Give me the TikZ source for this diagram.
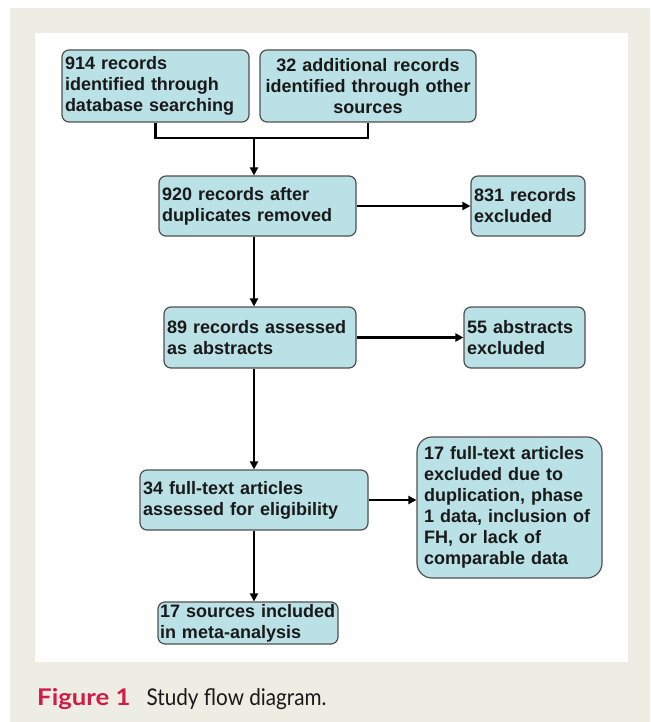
\documentclass[tikz,border=0pt]{standalone}
\usepackage{fontspec}
\setmainfont{Liberation Sans}
\newfontfamily\capfont{Lato}
\usetikzlibrary{arrows.meta,calc}
\hyphenpenalty=10000
\exhyphenpenalty=10000
\hbadness=10000
\hfuzz=30pt
\definecolor{boxfill}{RGB}{186,225,229}
\definecolor{boxline}{RGB}{80,80,80}
\definecolor{beige}{RGB}{238,237,227}
\definecolor{figred}{RGB}{208,26,72}
\definecolor{txt}{RGB}{25,25,25}
\tikzset{
  flowbox/.style={draw=boxline, line width=1.2pt, fill=boxfill, rounded corners=7pt,
    inner xsep=3pt, inner ysep=0pt,
    font=\fontsize{18}{21}\selectfont\bfseries,
    text=txt},
  conn/.style={line width=2.9pt, black},
  arr/.style={conn, -{Triangle[length=8pt,width=8pt]}},
}
\begin{document}
\begin{tikzpicture}[x=1pt,y=-1pt]
\useasboundingbox (0,0) rectangle (650,722);
\fill[white] (0,0) rectangle (650,722);
\fill[beige] (10,8) rectangle (650,722);
\fill[white] (35,33) rectangle (628,662);

\node[flowbox, minimum width=187pt, minimum height=72pt, text width=181pt, align=left] (A) at (155.5,86)
  {914 records\\identified through\\database searching};
\node[flowbox, minimum width=216pt, minimum height=72pt, text width=210pt, align=center] (B) at (368,86)
  {32 additional records\\identified through other\\sources};
\node[flowbox, minimum width=197pt, minimum height=60pt, text width=191pt, align=left] (C) at (257.5,206)
  {920 records after\\duplicates removed};
\node[flowbox, minimum width=114pt, minimum height=60pt, text width=108pt, align=left] (D) at (528,206)
  {831 records\\excluded};
\node[flowbox, minimum width=192pt, minimum height=61pt, text width=186pt, align=left] (E) at (260,337.5)
  {89 records assessed\\as abstracts};
\node[flowbox, minimum width=121pt, minimum height=61pt, text width=115pt, align=left] (F) at (524.5,337.5)
  {55 abstracts\\excluded};
\node[flowbox, minimum width=228pt, minimum height=60pt, text width=222pt, align=left] (G) at (254,500)
  {34 full-text articles\\assessed for eligibility};
\node[flowbox, rounded corners=15pt, minimum width=185pt, minimum height=141pt, text width=171pt, inner xsep=7pt, align=left] (H) at (509.5,507.5)
  {17 full-text articles\\excluded due to\\duplication, phase\\1 data, inclusion of\\FH, or lack of\\comparable data};
\node[flowbox, minimum width=180pt, minimum height=42pt, text width=176pt, inner xsep=2pt, align=left] (I) at (248,623)
  {17 sources included\\in meta-analysis};

\coordinate (join) at (254,138);
\coordinate (trunk) at (254,0);

\draw[conn] (A.south) |- (join);
\draw[conn] (B.south) |- (join);
\draw[arr] (join) -- (C.north -| join);
\draw[arr] (C.east) -- (D.west);
\draw[arr] (C.south -| trunk) -- (E.north -| trunk);
\draw[arr] (E.east) -- (F.west);
\draw[arr] (E.south -| trunk) -- (G.north -| trunk);
\draw[arr] (G.east) -- (G.east -| H.west);
\draw[arr] (G.south -| trunk) -- (I.north -| trunk);

\node[anchor=base west, inner sep=0pt, font=\capfont\fontsize{23}{26}\selectfont] (cap) at (37,705)
  {\textcolor{figred}{\scalebox{1.12}[1]{\bfseries Figure 1}}\hspace{16pt}\textcolor{txt}{\scalebox{0.9}[1]{Study flow diagram.}}};
\end{tikzpicture}
\end{document}
